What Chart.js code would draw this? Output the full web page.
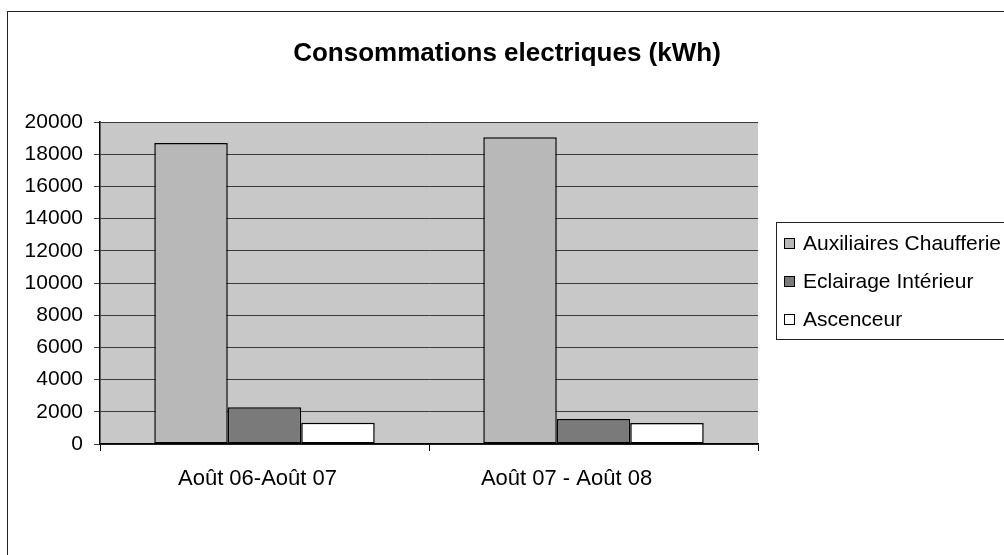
<!DOCTYPE html>
<html>
<head>
<meta charset="utf-8">
<script src="https://cdn.jsdelivr.net/npm/chart.js@4.4.1/dist/chart.umd.min.js"></script>
<style>
  html, body { margin: 0; padding: 0; background: #ffffff; overflow: hidden; }
  #wrap { position: absolute; left: 0; top: 0; width: 1004px; height: 555px; }
  #frame { position: absolute; left: 7px; top: 11px; width: 1100px; height: 700px;
           border-left: 1.5px solid #222; border-top: 1.5px solid #222; pointer-events: none; }
</style>
</head>
<body>
<div id="wrap">
  <canvas id="c" width="1004" height="555"></canvas>
  <div id="frame"></div>
</div>
<script>
const categories = ["Août 06-Août 07", "Août 07 - Août 08"];
const seriesNames = ["Auxiliaires Chaufferie", "Eclairage Intérieur", "Ascenceur"];
const auxiliaires = [18700, 19050];
const eclairage = [2280, 1560];
const ascenceur = [1320, 1310];
const yTicks = [0, 2000, 4000, 6000, 8000, 10000, 12000, 14000, 16000, 18000, 20000];
const titleText = "Consommations electriques (kWh)";

const colors = ["#b8b8b8", "#7a7a7a", "#ffffff"];
const FONT = "'Liberation Sans', Arial, sans-serif";
const labelShift = [-7, -27];

const plotBg = {
  id: 'plotBg',
  beforeDraw(chart) {
    const { ctx, chartArea: a } = chart;
    ctx.save();
    ctx.fillStyle = '#c8c8c8';
    ctx.fillRect(a.left, a.top, a.right - a.left, a.bottom - a.top);
    ctx.restore();
  }
};

const texts = {
  id: 'texts',
  afterDraw(chart) {
    const ctx = chart.ctx;
    const xs = chart.scales.x;
    ctx.save();
    // title
    ctx.fillStyle = '#000';
    ctx.font = "bold 26px " + FONT;
    ctx.textAlign = 'center';
    ctx.textBaseline = 'middle';
    ctx.fillText(titleText, 507, 54);
    // category labels
    ctx.font = "22px " + FONT;
    chart.data.labels.forEach((lab, i) => {
      ctx.fillText(lab, xs.getPixelForValue(i) + labelShift[i], xs.top + 35);
    });
    // legend
    const x0 = 776, yTop = 222, yBot = 339;
    const rows = [243, 281, 319];
    ctx.strokeStyle = '#222';
    ctx.lineWidth = 1;
    ctx.strokeRect(x0 + 0.5, yTop + 0.5, 400, yBot - yTop);
    ctx.font = "21px " + FONT;
    ctx.textAlign = 'left';
    chart.data.datasets.forEach((ds, i) => {
      const y = rows[i];
      ctx.fillStyle = ds.backgroundColor;
      ctx.fillRect(784, y - 5, 11, 11);
      ctx.strokeStyle = '#000';
      ctx.lineWidth = 1;
      ctx.strokeRect(784.5, y - 4.5, 10, 10);
      ctx.fillStyle = '#000';
      ctx.fillText(ds.label, 803, y + 1);
    });
    ctx.restore();
  }
};

new Chart(document.getElementById('c'), {
  type: 'bar',
  data: {
    labels: categories,
    datasets: [
      { label: seriesNames[0], data: auxiliaires, backgroundColor: colors[0] },
      { label: seriesNames[1], data: eclairage, backgroundColor: colors[1] },
      { label: seriesNames[2], data: ascenceur, backgroundColor: colors[2] }
    ]
  },
  options: {
    responsive: false,
    animation: false,
    devicePixelRatio: 1,
    layout: { padding: { left: 0, right: 246, top: 122, bottom: 51 } },
    datasets: {
      bar: {
        barPercentage: 1,
        categoryPercentage: 0.67,
        borderColor: '#000',
        borderWidth: 1.5,
        borderSkipped: false
      }
    },
    plugins: {
      legend: { display: false },
      tooltip: { enabled: false },
      title: { display: false }
    },
    scales: {
      x: {
        grid: { display: true, offset: true, drawOnChartArea: false, drawTicks: true, tickLength: 7, color: '#000' },
        border: { display: true, color: '#000', width: 1.5 },
        ticks: { display: false },
        afterFit(s) { s.height = 60; }
      },
      y: {
        min: 0,
        max: 20000,
        afterBuildTicks(s) { s.ticks = yTicks.map(v => ({ value: v })); },
        grid: { color: '#3a3a3a', lineWidth: 1, drawTicks: true, tickLength: 6 },
        border: { display: true, color: '#000', width: 1.5 },
        ticks: { color: '#000', font: { family: FONT, size: 21 }, padding: 11,
                 callback: (v) => String(v) },
        afterFit(s) { s.width = 100; }
      }
    }
  },
  plugins: [plotBg, texts]
});
</script>
</body>
</html>
